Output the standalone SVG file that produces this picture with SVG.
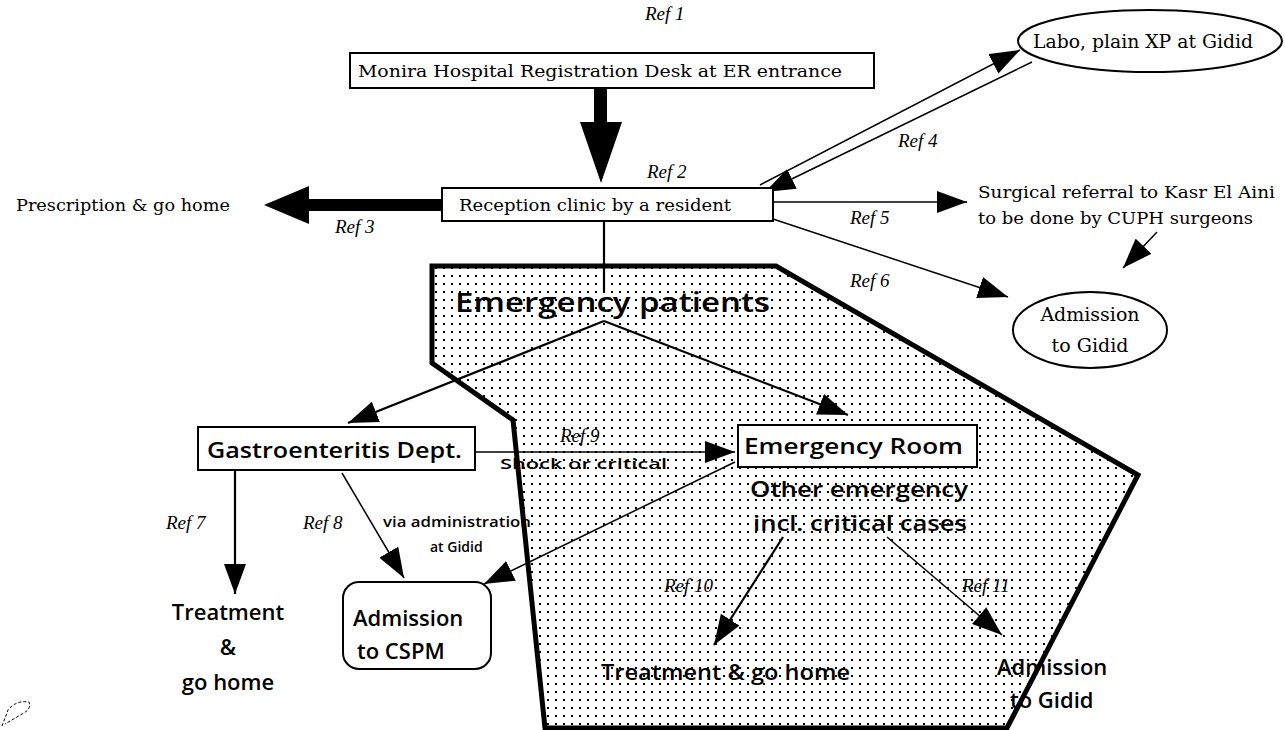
<svg xmlns="http://www.w3.org/2000/svg" width="1285" height="730" viewBox="0 0 1285 730">
<defs>
<pattern id="dots" x="0" y="0" width="8" height="8" patternUnits="userSpaceOnUse">
<rect x="3" y="3" width="2" height="2" fill="#000"/>
</pattern>
<marker id="ahb" markerWidth="30" markerHeight="22" refX="30" refY="11" orient="auto" markerUnits="userSpaceOnUse" viewBox="0 0 30 22">
<path d="M0,0 L30,11 L0,22 Z" fill="#000"/>
</marker>
</defs>
<style>
.serif{font-family:"DejaVu Serif","Liberation Serif",serif;fill:#000}
.ref{font-family:"Liberation Serif",serif;font-style:italic;font-size:19px;fill:#000}
.sans{font-family:"Open Sans","Noto Sans",sans-serif;font-weight:600;fill:#000}
.box{fill:#fff;stroke:#000;stroke-width:2}
.ln{stroke:#000;stroke-width:2.2;fill:none}
.lnt{stroke:#000;stroke-width:1.5;fill:none}
</style>
<rect width="1285" height="730" fill="#fff"/>

<g id="zone">
<path d="M432,266 L776,266 L1138,475 L1007,728 L545,728 L513,420 L432,363 Z" fill="url(#dots)" stroke="#000" stroke-width="5" stroke-linejoin="miter"/>
</g>

<g id="connectors">
<path d="M594,89 L607,89 L607,122 L622,122 L601,183 L580,122 L594,122 Z" fill="#000"/>
<path d="M442,199 L309,199 L309,186 L264,205 L309,224 L309,211 L442,211 Z" fill="#000"/>
<line class="lnt" x1="760" y1="185" x2="1020" y2="50" marker-end="url(#ahb)"/>
<line class="lnt" x1="1032" y1="62" x2="765" y2="192" marker-end="url(#ahb)"/>
<line class="lnt" x1="773" y1="202" x2="967" y2="202" marker-end="url(#ahb)"/>
<line class="lnt" x1="1157" y1="232" x2="1123" y2="268" marker-end="url(#ahb)"/>
<line class="lnt" x1="773" y1="219" x2="1008" y2="297" marker-end="url(#ahb)"/>
<line class="ln" x1="604" y1="221" x2="604" y2="292"/>
<line class="ln" x1="604" y1="321" x2="348" y2="423" marker-end="url(#ahb)"/>
<line class="ln" x1="604" y1="321" x2="848" y2="415" marker-end="url(#ahb)"/>
<line class="lnt" x1="475" y1="452" x2="735" y2="452" marker-end="url(#ahb)"/>
<line class="ln" x1="235" y1="470" x2="235" y2="594" marker-end="url(#ahb)"/>
<line class="lnt" x1="342" y1="473" x2="404" y2="578" marker-end="url(#ahb)"/>
<line class="lnt" x1="735" y1="462" x2="484" y2="584" marker-end="url(#ahb)"/>
<line class="ln" x1="783" y1="537" x2="714" y2="645" marker-end="url(#ahb)"/>
<line class="lnt" x1="887" y1="537" x2="1002" y2="635" marker-end="url(#ahb)"/>
</g>

<g id="n1">
<text class="ref" x="645" y="20">Ref  1</text>
<rect class="box" x="350" y="53" width="524" height="35"/>
<text class="serif" x="358" y="77" font-size="17" textLength="484" lengthAdjust="spacingAndGlyphs">Monira Hospital Registration Desk at ER entrance</text>
</g>

<g id="n2">
<text class="ref" x="647" y="178">Ref  2</text>
<rect class="box" x="442" y="188" width="331" height="33"/>
<text class="serif" x="459" y="211" font-size="16" textLength="272" lengthAdjust="spacingAndGlyphs">Reception clinic by a resident</text>
</g>

<g id="n3">
<text class="serif" x="16" y="211" font-size="17" textLength="214" lengthAdjust="spacingAndGlyphs">Prescription &amp; go home</text>
<text class="ref" x="335" y="233">Ref  3</text>
</g>

<g id="n4">
<ellipse class="box" cx="1150" cy="41" rx="132" ry="31"/>
<text class="serif" x="1033" y="48" font-size="18" textLength="220" lengthAdjust="spacingAndGlyphs">Labo, plain XP at Gidid</text>
<text class="ref" x="898" y="147">Ref  4</text>
</g>

<g id="n5">
<text class="ref" x="850" y="224">Ref  5</text>
<text class="serif" x="978" y="198" font-size="17" textLength="297" lengthAdjust="spacingAndGlyphs">Surgical referral to Kasr El Aini</text>
<text class="serif" x="978" y="224" font-size="17" textLength="275" lengthAdjust="spacingAndGlyphs">to be done by CUPH surgeons</text>
</g>

<g id="n6">
<text class="ref" x="850" y="287">Ref  6</text>
<ellipse class="box" cx="1090" cy="330" rx="77" ry="38"/>
<text class="serif" x="1090" y="321" font-size="19" text-anchor="middle">Admission</text>
<text class="serif" x="1090" y="352" font-size="19" text-anchor="middle">to Gidid</text>
</g>

<g id="emergency">
<text class="sans" x="455" y="312" font-size="27" textLength="315" lengthAdjust="spacingAndGlyphs">Emergency patients</text>
</g>

<g id="gastro">
<rect class="box" x="198" y="427" width="277" height="43"/>
<text class="sans" x="207" y="458" font-size="22" textLength="255" lengthAdjust="spacingAndGlyphs">Gastroenteritis Dept.</text>
</g>

<g id="er">
<rect class="box" x="738" y="425" width="239" height="42"/>
<text class="sans" x="744" y="454" font-size="22" textLength="219" lengthAdjust="spacingAndGlyphs">Emergency Room</text>
<text class="sans" x="750" y="497" font-size="22" textLength="218" lengthAdjust="spacingAndGlyphs">Other emergency</text>
<text class="sans" x="753" y="531" font-size="22" textLength="214" lengthAdjust="spacingAndGlyphs">incl. critical cases</text>
</g>

<g id="ref9">
<text class="ref" x="560" y="442" font-size="16">Ref 9</text>
<text class="sans" x="500" y="469" font-size="14" textLength="167" lengthAdjust="spacingAndGlyphs">Shock or critical</text>
</g>

<g id="ref7">
<text class="ref" x="166" y="529">Ref  7</text>
<text class="sans" x="228" y="620" font-size="22" text-anchor="middle">Treatment</text>
<text class="sans" x="228" y="655" font-size="22" text-anchor="middle">&amp;</text>
<text class="sans" x="228" y="690" font-size="22" text-anchor="middle">go home</text>
</g>

<g id="ref8">
<text class="ref" x="303" y="529">Ref  8</text>
<text class="sans" x="383" y="527" font-size="14" textLength="148" lengthAdjust="spacingAndGlyphs">via administration</text>
<text class="sans" x="430" y="552" font-size="14">at Gidid</text>
</g>

<g id="cspm">
<rect class="box" x="343" y="582" width="148" height="87" rx="16"/>
<text class="sans" x="353" y="626" font-size="22">Admission</text>
<text class="sans" x="357" y="659" font-size="22">to CSPM</text>
</g>

<g id="ref10">
<text class="ref" x="664" y="592" font-size="16">Ref  10</text>
<text class="sans" x="601" y="680" font-size="22" textLength="249" lengthAdjust="spacingAndGlyphs">Treatment &amp; go home</text>
</g>

<g id="ref11">
<text class="ref" x="962" y="592" font-size="16">Ref  11</text>
<text class="sans" x="997" y="675" font-size="22">Admission</text>
<text class="sans" x="1010" y="708" font-size="22">to Gidid</text>
</g>

<g id="squiggle">
<path d="M2,726 L8,710 Q16,700 29,702 Q32,709 22,714 L5,724" fill="none" stroke="#000" stroke-width="1" stroke-dasharray="3,2"/>
</g>
</svg>
